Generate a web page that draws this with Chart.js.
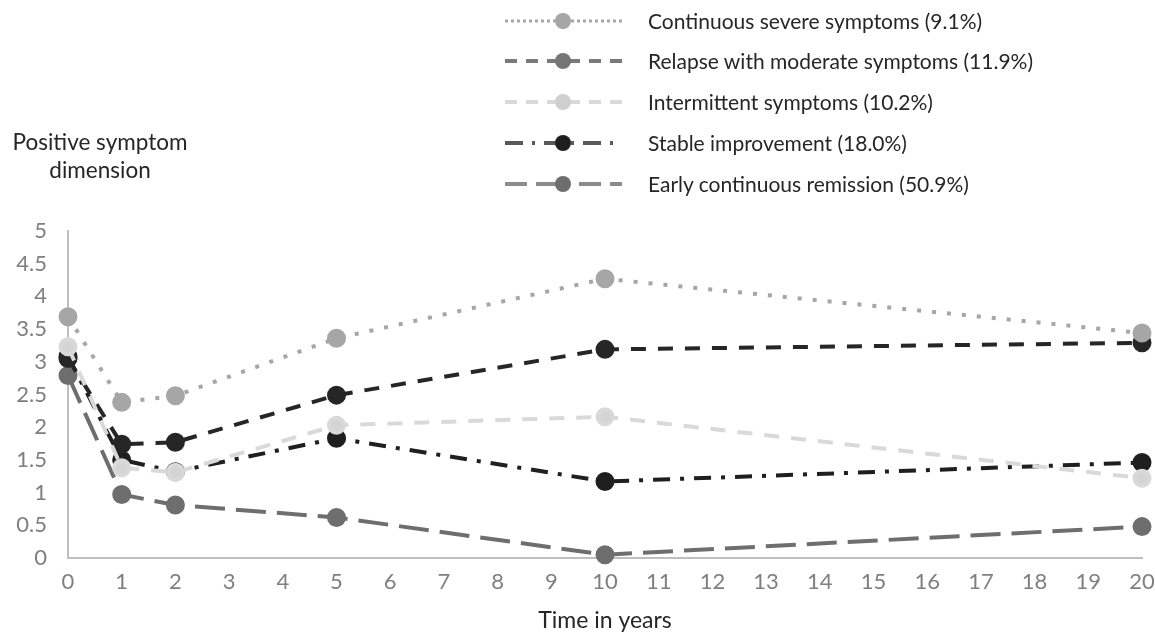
<!DOCTYPE html>
<html>
<head>
<meta charset="utf-8">
<script src="https://cdn.jsdelivr.net/npm/chart.js@4/dist/chart.umd.min.js"></script>
<style>
  html, body { margin: 0; padding: 0; background: #fff; }
  #wrap { position: relative; width: 1155px; height: 634px; font-family: Lato, "Open Sans", sans-serif; color: #262626; }
  #chart { position: absolute; left: 0; top: 0; }
  #ytitle { position: absolute; left: 0; top: 128px; width: 200px; text-align: center; font-size: 22.5px; line-height: 28px; }
  .lg { position: absolute; left: 500px; height: 28px; line-height: 28px; font-size: 21px; white-space: nowrap; }
  .lg svg { position: absolute; left: 0; top: 0; }
  .lg span { position: absolute; left: 148px; top: 0; }
</style>
</head>
<body>
<div id="wrap">
  <canvas id="chart" width="1155" height="634"></canvas>
  <div id="ytitle">Positive symptom<br>dimension</div>
  <div id="legend"></div>
</div>
<script>
// Trajectory means
const years = [0, 1, 2, 5, 10, 20];
const severe = [3.69, 2.38, 2.48, 3.36, 4.27, 3.44];
const relapse = [3.05, 1.74, 1.77, 2.49, 3.19, 3.29];
const intermittent = [3.23, 1.38, 1.31, 2.03, 2.16, 1.22];
const stable = [3.08, 1.50, 1.32, 1.83, 1.17, 1.46];
const early = [2.79, 0.97, 0.81, 0.62, 0.05, 0.48];

const labels = [
    'Continuous severe symptoms (9.1%)',
    'Relapse with moderate symptoms (11.9%)',
    'Intermittent symptoms (10.2%)',
    'Stable improvement (18.0%)',
    'Early continuous remission (50.9%)'
];

const yTicks = [0, 0.5, 1, 1.5, 2, 2.5, 3, 3.5, 4, 4.5, 5];

function pts(values) {
    return values.map((v, i) => ({ x: years[i], y: v }));
}

// legend (drawn as html, styled like the original)
const legendRows = [
    { y: 21, line: '#a6a6a6', dash: '3 3', w: 3, dot: '#a6a6a6' },
    { y: 61, line: '#7a7a7a', dash: '12 9', w: 4, dot: '#767676' },
    { y: 102, line: '#d9d9d9', dash: '12 9', w: 4, dot: '#cfcfcf' },
    { y: 143, line: '#595959', dash: '18 9 3 9', w: 4, dot: '#1f1f1f' },
    { y: 184, line: '#8c8c8c', dash: '22 9 22 9 3 9', w: 4, dot: '#6e6e6e' }
];
const legendEl = document.getElementById('legend');
legendRows.forEach((r, i) => {
    const div = document.createElement('div');
    div.className = 'lg';
    div.style.top = (r.y - 14) + 'px';
    div.innerHTML =
        '<svg width="130" height="28">' +
        '<line x1="5" y1="14" x2="122" y2="14" stroke="' + r.line + '" stroke-width="' + r.w + '" stroke-dasharray="' + r.dash + '"/>' +
        '<circle cx="63" cy="14" r="8" fill="' + r.dot + '"/></svg>' +
        '<span>' + labels[i] + '</span>';
    legendEl.appendChild(div);
});

const ctx = document.getElementById('chart').getContext('2d');

const chart = new Chart(ctx, {
    type: 'line',
    data: {
        datasets: [
            {
                label: labels[0], data: pts(severe),
                borderColor: '#a6a6a6', backgroundColor: '#a6a6a6',
                borderDash: [4, 11], borderWidth: 4
            },
            {
                label: labels[2], data: pts(intermittent),
                borderColor: '#d9d9d9', backgroundColor: '#d4d4d4',
                borderDash: [15, 12], borderWidth: 4
            },
            {
                label: labels[1], data: pts(relapse),
                borderColor: '#262626', backgroundColor: '#262626',
                borderDash: [15, 12], borderWidth: 4
            },
            {
                label: labels[3], data: pts(stable),
                borderColor: '#1f1f1f', backgroundColor: '#1f1f1f',
                borderDash: [17, 10, 4, 10], borderWidth: 4
            },
            {
                label: labels[4], data: pts(early),
                borderColor: '#6e6e6e', backgroundColor: '#6e6e6e',
                borderDash: [30, 11], borderWidth: 4
            }
        ]
    },
    options: {
        responsive: false,
        animation: false,
        devicePixelRatio: 1,
        layout: { padding: { top: 231, right: 13, left: 0, bottom: 0 } },
        elements: {
            line: { tension: 0, fill: false, borderCapStyle: 'butt' },
            point: { radius: 7.5, borderWidth: 0, hoverRadius: 7.5 }
        },
        datasets: { line: { clip: false } },
        plugins: {
            legend: { display: false },
            tooltip: { enabled: false }
        },
        scales: {
            x: {
                type: 'linear',
                min: 0, max: 20,
                afterFit: s => { s.height = 76; s.paddingRight = 0; s.paddingLeft = 0; },
                grid: { display: false, drawTicks: false },
                border: { display: true, color: '#bfbfbf', width: 2 },
                ticks: {
                    stepSize: 1, padding: 11,
                    color: '#7f7f7f',
                    font: { family: 'Lato', size: 22 }
                },
                title: {
                    display: true, text: 'Time in years',
                    color: '#262626',
                    font: { family: 'Lato', size: 23 },
                    padding: { top: 0, bottom: 0 }
                }
            },
            y: {
                min: 0, max: 5,
                afterFit: s => { s.width = 68; },
                afterBuildTicks: s => { s.ticks = yTicks.map(v => ({ value: v })); },
                grid: { display: false, drawTicks: false },
                border: { display: true, color: '#bfbfbf', width: 2 },
                ticks: {
                    padding: 21,
                    color: '#7f7f7f',
                    font: { family: 'Lato', size: 22 },
                    callback: v => String(v)
                }
            }
        }
    }
});
</script>
</body>
</html>
